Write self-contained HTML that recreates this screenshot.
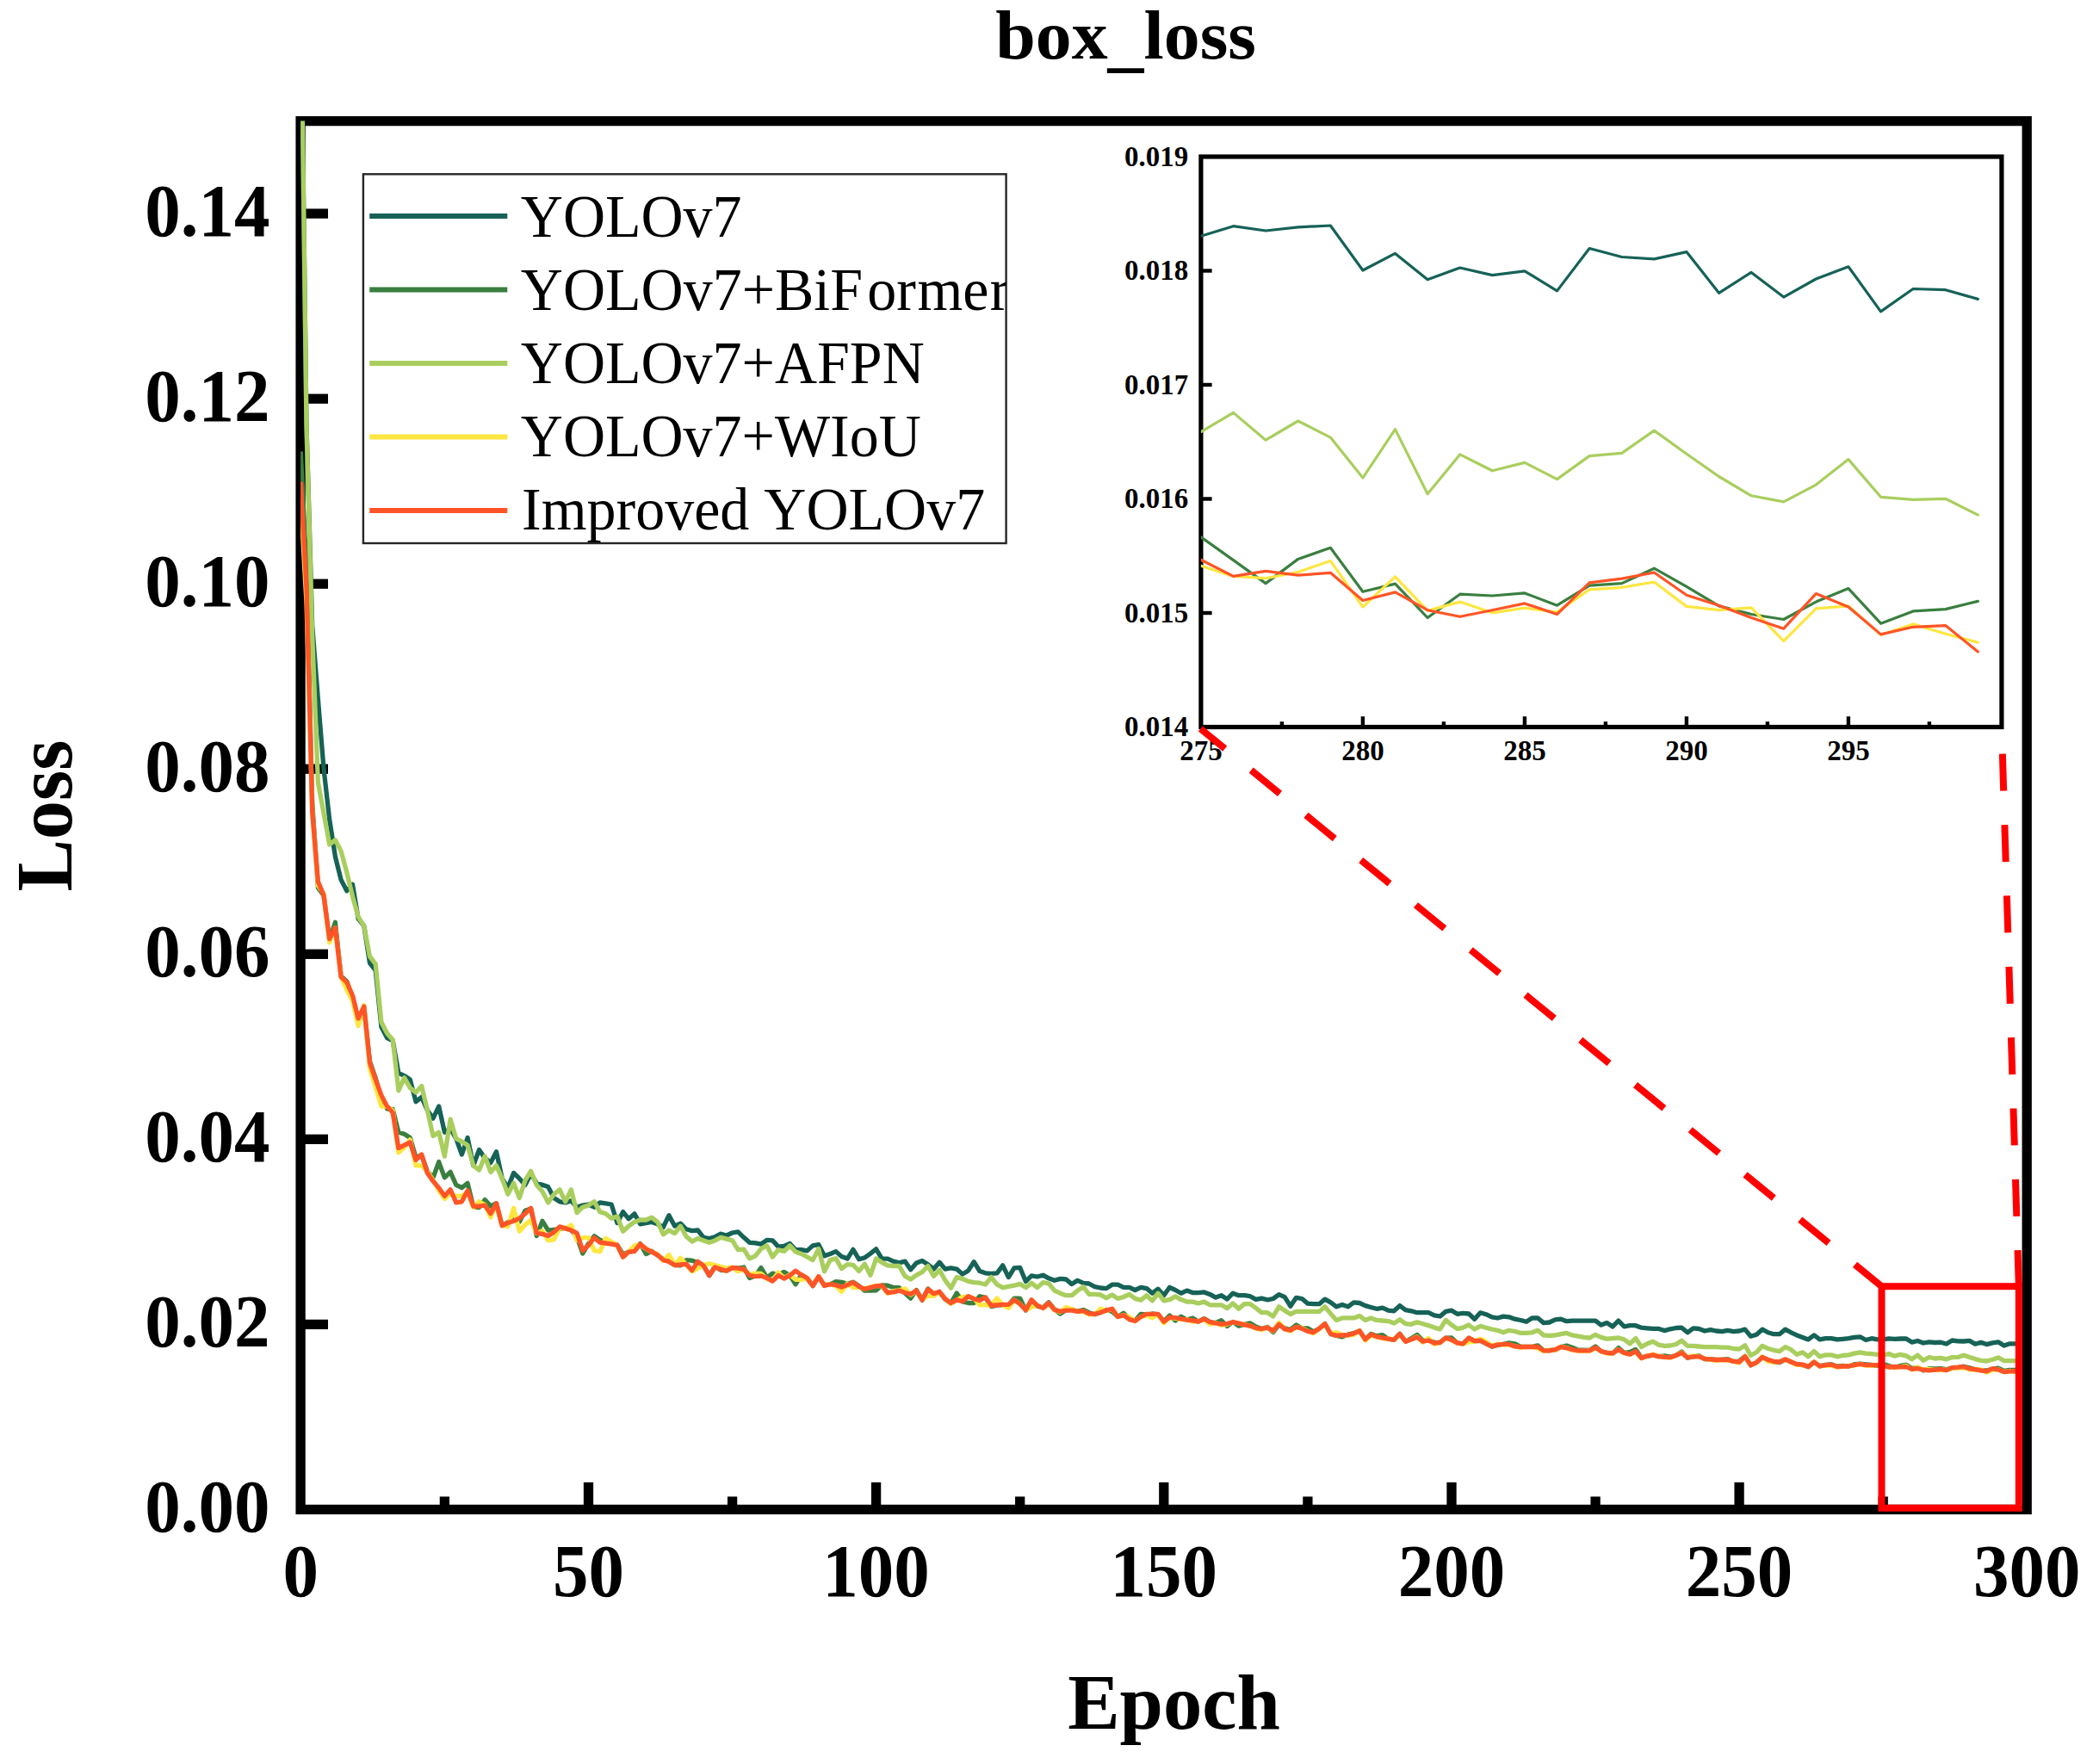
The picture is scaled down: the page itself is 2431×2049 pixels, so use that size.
<!DOCTYPE html>
<html lang="en"><head><meta charset="utf-8"><title>box_loss</title>
<style>
html,body{margin:0;padding:0;background:#fff;}
body{width:2431px;height:2049px;overflow:hidden;}
svg{display:block;}
text{font-family:"Liberation Serif","Times New Roman",Times,serif;fill:#000;font-kerning:none;}
.b{font-weight:bold;}
.tk{font-weight:bold;font-size:83px;}
.itk{font-weight:bold;font-size:33px;}
.lg{font-size:68px;}
.ax{font-weight:bold;font-size:90.6px;}
</style></head><body>
<svg width="2431" height="2049" viewBox="0 0 2431 2049">
<rect x="0" y="0" width="2431" height="2049" fill="#fff"/>
<defs>
<clipPath id="cm"><rect x="349.1" y="140.6" width="2005.1" height="1612.8"/></clipPath>
<clipPath id="cl"><rect x="422" y="202" width="746.5" height="429"/></clipPath>
<clipPath id="ci"><rect x="1394.9" y="182.0" width="930.0" height="662.5"/></clipPath>
</defs>
<text class="b" font-size="83.8" transform="translate(1156.2,67.8) scale(1,0.967)" dy="0 0 0 6 -6">box_loss</text>
<rect x="349.1" y="140.6" width="2005.1" height="1612.8" fill="none" stroke="#000" stroke-width="11.3"/>
<g stroke="#000" stroke-width="11.3">
<line x1="349.1" y1="1538.4" x2="381.0" y2="1538.4"/>
<line x1="349.1" y1="1323.3" x2="381.0" y2="1323.3"/>
<line x1="349.1" y1="1108.3" x2="381.0" y2="1108.3"/>
<line x1="349.1" y1="893.2" x2="381.0" y2="893.2"/>
<line x1="349.1" y1="678.2" x2="381.0" y2="678.2"/>
<line x1="349.1" y1="463.2" x2="381.0" y2="463.2"/>
<line x1="349.1" y1="248.1" x2="381.0" y2="248.1"/>
<line x1="683.5" y1="1753.4" x2="683.5" y2="1721.8"/>
<line x1="1017.6" y1="1753.4" x2="1017.6" y2="1721.8"/>
<line x1="1351.8" y1="1753.4" x2="1351.8" y2="1721.8"/>
<line x1="1686.0" y1="1753.4" x2="1686.0" y2="1721.8"/>
<line x1="2020.1" y1="1753.4" x2="2020.1" y2="1721.8"/>
<line x1="516.4" y1="1753.4" x2="516.4" y2="1738.4"/>
<line x1="850.6" y1="1753.4" x2="850.6" y2="1738.4"/>
<line x1="1184.7" y1="1753.4" x2="1184.7" y2="1738.4"/>
<line x1="1518.9" y1="1753.4" x2="1518.9" y2="1738.4"/>
<line x1="1853.1" y1="1753.4" x2="1853.1" y2="1738.4"/>
<line x1="2187.2" y1="1753.4" x2="2187.2" y2="1738.4"/>
</g>
<g class="tk" text-anchor="end">
<text transform="translate(313.5,1779.4) scale(1,1.048)">0.00</text>
<text transform="translate(313.5,1564.4) scale(1,1.048)">0.02</text>
<text transform="translate(313.5,1349.3) scale(1,1.048)">0.04</text>
<text transform="translate(313.5,1134.3) scale(1,1.048)">0.06</text>
<text transform="translate(313.5,919.2) scale(1,1.048)">0.08</text>
<text transform="translate(313.5,704.2) scale(1,1.048)">0.10</text>
<text transform="translate(313.5,489.2) scale(1,1.048)">0.12</text>
<text transform="translate(313.5,274.1) scale(1,1.048)">0.14</text>
</g>
<g class="tk" text-anchor="middle">
<text transform="translate(349.3,1853.8) scale(1,1.048)">0</text>
<text transform="translate(683.5,1853.8) scale(1,1.048)">50</text>
<text transform="translate(1017.6,1853.8) scale(1,1.048)">100</text>
<text transform="translate(1351.8,1853.8) scale(1,1.048)">150</text>
<text transform="translate(1686.0,1853.8) scale(1,1.048)">200</text>
<text transform="translate(2020.1,1853.8) scale(1,1.048)">250</text>
<text transform="translate(2354.3,1853.8) scale(1,1.048)">300</text>
</g>
<text class="ax" text-anchor="middle" x="1363.5" y="2008">Epoch</text>
<text class="ax" text-anchor="middle" transform="translate(82.8,947.5) rotate(-90) scale(1,1.03)">Loss</text>
<g clip-path="url(#cm)" fill="none" stroke-width="5.3" stroke-linejoin="round" stroke-linecap="butt">
<polyline stroke="#166257" points="349.3,-20.4 356.0,495.4 362.7,726.4 369.4,812.3 376.0,892.9 382.7,952.0 389.4,995.0 396.1,1021.9 402.8,1034.8 409.5,1027.2 416.1,1067.0 422.8,1075.6 429.5,1118.6 436.2,1127.2 442.9,1192.7 449.6,1205.6 456.2,1208.8 462.9,1246.4 469.6,1249.6 476.3,1253.9 483.0,1279.7 489.7,1274.4 496.3,1289.4 503.0,1299.1 509.7,1285.1 516.4,1315.2 523.1,1310.9 529.8,1322.7 536.4,1341.0 543.1,1321.6 549.8,1353.9 556.5,1335.6 563.2,1345.3 569.9,1350.6 576.5,1337.8 583.2,1368.9 589.9,1379.7 596.6,1362.5 603.3,1368.9 610.0,1376.4 616.6,1363.5 623.3,1374.3 630.0,1376.4 636.7,1378.6 643.4,1391.5 650.1,1395.8 656.7,1396.9 663.4,1394.7 670.1,1402.2 676.8,1400.1 683.5,1399.0 690.2,1402.2 696.8,1396.9 703.5,1397.9 710.2,1399.0 716.9,1420.5 723.6,1407.6 730.2,1415.8 736.9,1409.9 743.6,1421.8 750.3,1420.6 757.0,1419.4 763.7,1421.8 770.4,1425.4 777.0,1411.7 783.7,1424.2 790.4,1421.2 797.1,1427.8 803.8,1429.6 810.5,1429.0 817.1,1437.3 823.8,1438.5 830.5,1436.7 837.2,1433.2 843.9,1435.0 850.6,1432.0 857.2,1430.8 863.9,1437.3 870.6,1443.3 877.3,1443.9 884.0,1445.1 890.7,1440.3 897.3,1440.9 904.0,1448.1 910.7,1447.5 917.4,1444.5 924.1,1451.7 930.8,1451.7 937.4,1452.9 944.1,1446.9 950.8,1445.7 957.5,1458.8 964.2,1456.5 970.9,1453.6 977.5,1459.6 984.2,1462.1 990.9,1451.4 997.6,1462.7 1004.3,1460.9 1011.0,1456.1 1017.6,1450.8 1024.3,1462.1 1031.0,1462.1 1037.7,1465.1 1044.4,1466.9 1051.1,1465.1 1057.7,1474.7 1064.4,1466.9 1071.1,1464.5 1077.8,1468.7 1084.5,1474.1 1091.2,1466.3 1097.8,1474.1 1104.5,1472.9 1111.2,1474.1 1117.9,1480.0 1124.6,1475.9 1131.2,1465.7 1137.9,1476.5 1144.6,1478.8 1151.3,1479.4 1158.0,1478.8 1164.7,1469.9 1171.4,1483.6 1178.0,1472.9 1184.7,1472.3 1191.4,1488.4 1198.1,1481.8 1204.8,1483.0 1211.5,1481.2 1218.1,1484.8 1224.8,1487.3 1231.5,1485.4 1238.2,1486.0 1244.9,1491.6 1251.6,1487.3 1258.2,1490.4 1264.9,1491.0 1271.6,1494.7 1278.3,1496.0 1285.0,1496.6 1291.7,1492.2 1298.3,1492.2 1305.0,1495.3 1311.7,1495.3 1318.4,1498.5 1325.1,1495.3 1331.8,1496.6 1338.4,1502.2 1345.1,1497.2 1351.8,1504.7 1358.5,1495.3 1365.2,1498.5 1371.9,1502.2 1378.5,1499.1 1385.2,1501.6 1391.9,1501.6 1398.6,1500.9 1405.3,1503.4 1412.0,1507.1 1418.6,1504.7 1425.3,1509.0 1432.0,1502.2 1438.7,1504.7 1445.4,1504.7 1452.1,1505.7 1458.7,1509.4 1465.4,1508.1 1472.1,1509.8 1478.8,1508.5 1485.5,1503.6 1492.2,1506.7 1498.8,1517.2 1505.5,1507.3 1512.2,1508.5 1518.9,1514.1 1525.6,1514.7 1532.3,1514.7 1538.9,1509.1 1545.6,1512.9 1552.3,1517.8 1559.0,1515.4 1565.7,1517.8 1572.4,1512.9 1579.0,1513.5 1585.7,1516.6 1592.4,1518.5 1599.1,1520.3 1605.8,1519.1 1612.5,1522.2 1619.1,1522.8 1625.8,1516.6 1632.5,1521.6 1639.2,1522.8 1645.9,1524.7 1652.6,1524.7 1659.2,1524.7 1665.9,1527.8 1672.6,1529.0 1679.3,1523.4 1686.0,1522.2 1692.7,1526.3 1699.3,1525.3 1706.0,1526.0 1712.7,1532.2 1719.4,1524.8 1726.1,1526.7 1732.8,1529.8 1739.4,1531.0 1746.1,1529.1 1752.8,1529.8 1759.5,1532.2 1766.2,1533.5 1772.9,1535.3 1779.5,1531.0 1786.2,1531.0 1792.9,1536.6 1799.6,1536.0 1806.3,1532.9 1813.0,1532.2 1819.6,1534.7 1826.3,1534.1 1833.0,1534.1 1839.7,1534.1 1846.4,1534.1 1853.1,1534.1 1859.7,1539.1 1866.4,1536.6 1873.1,1540.9 1879.8,1534.1 1886.5,1540.9 1893.2,1539.7 1899.8,1539.7 1906.5,1542.2 1913.2,1542.8 1919.9,1543.4 1926.6,1543.4 1933.3,1545.6 1939.9,1543.8 1946.6,1542.5 1953.3,1542.2 1960.0,1547.8 1966.7,1542.9 1973.4,1543.5 1980.0,1546.0 1986.7,1544.7 1993.4,1546.0 2000.1,1546.6 2006.8,1545.4 2013.5,1546.6 2020.1,1546.0 2026.8,1544.1 2033.5,1552.2 2040.2,1550.3 2046.9,1544.1 2053.6,1547.8 2060.2,1549.7 2066.9,1549.7 2073.6,1544.1 2080.3,1547.8 2087.0,1550.9 2093.7,1553.4 2100.3,1555.9 2107.0,1550.9 2113.7,1555.9 2120.4,1554.7 2127.1,1554.7 2133.8,1555.9 2140.4,1555.3 2147.1,1554.7 2153.8,1553.4 2160.5,1552.8 2167.2,1556.5 2173.9,1554.7 2180.5,1555.9 2187.2,1555.9 2193.9,1554.9 2200.6,1555.4 2207.3,1555.0 2214.0,1554.9 2220.6,1559.1 2227.3,1557.5 2234.0,1560.0 2240.7,1558.8 2247.4,1559.5 2254.1,1559.2 2260.7,1561.0 2267.4,1557.0 2274.1,1557.8 2280.8,1558.0 2287.5,1557.4 2294.2,1561.2 2300.8,1559.3 2307.5,1561.6 2314.2,1559.9 2320.9,1558.8 2327.6,1563.0 2334.3,1560.8 2340.9,1560.9 2347.6,1561.8"/>
<polyline stroke="#3a7f40" points="349.3,524.4 356.0,661.9 362.7,932.7 369.4,1031.1 376.0,1040.2 382.7,1091.5 389.4,1071.3 396.1,1133.8 402.8,1140.0 409.5,1159.0 416.1,1185.4 422.8,1170.3 429.5,1232.8 436.2,1252.4 442.9,1275.7 449.6,1288.1 456.2,1288.3 462.9,1315.2 469.6,1317.3 476.3,1321.6 483.0,1344.5 489.7,1341.8 496.3,1360.5 503.0,1368.0 509.7,1349.6 516.4,1367.8 523.1,1361.4 529.8,1376.4 536.4,1379.7 543.1,1374.3 549.8,1401.7 556.5,1402.5 563.2,1393.6 569.9,1401.1 576.5,1397.7 583.2,1423.5 589.9,1419.7 596.6,1414.6 603.3,1419.3 610.0,1406.3 616.6,1403.9 623.3,1435.6 630.0,1418.3 636.7,1429.1 643.4,1428.4 650.1,1427.6 656.7,1426.4 663.4,1428.8 670.1,1436.8 676.8,1455.9 683.5,1444.7 690.2,1435.8 696.8,1440.1 703.5,1442.7 710.2,1444.1 716.9,1445.9 723.6,1457.0 730.2,1454.1 736.9,1452.8 743.6,1444.6 750.3,1456.5 757.0,1453.3 763.7,1458.0 770.4,1462.6 777.0,1465.0 783.7,1469.5 790.4,1469.8 797.1,1463.6 803.8,1464.2 810.5,1466.4 817.1,1469.8 823.8,1481.8 830.5,1471.0 837.2,1475.3 843.9,1475.9 850.6,1472.6 857.2,1473.0 863.9,1472.0 870.6,1484.5 877.3,1482.1 884.0,1472.6 890.7,1484.2 897.3,1479.1 904.0,1481.2 910.7,1477.4 917.4,1481.6 924.1,1491.7 930.8,1480.7 937.4,1484.8 944.1,1493.7 950.8,1483.0 957.5,1492.7 964.2,1491.9 970.9,1488.7 977.5,1489.3 984.2,1491.3 990.9,1489.2 997.6,1493.7 1004.3,1499.2 1011.0,1499.1 1017.6,1498.9 1024.3,1492.9 1031.0,1493.2 1037.7,1495.6 1044.4,1495.6 1051.1,1502.0 1057.7,1508.1 1064.4,1498.5 1071.1,1510.4 1077.8,1496.9 1084.5,1503.3 1091.2,1501.1 1097.8,1509.3 1104.5,1513.7 1111.2,1502.1 1117.9,1512.0 1124.6,1513.5 1131.2,1513.5 1137.9,1505.7 1144.6,1507.4 1151.3,1517.6 1158.0,1516.2 1164.7,1515.6 1171.4,1516.0 1178.0,1508.1 1184.7,1508.1 1191.4,1522.0 1198.1,1510.6 1204.8,1517.2 1211.5,1519.0 1218.1,1512.8 1224.8,1520.9 1231.5,1526.1 1238.2,1521.5 1244.9,1520.9 1251.6,1523.0 1258.2,1521.5 1264.9,1524.7 1271.6,1526.8 1278.3,1524.5 1285.0,1521.3 1291.7,1523.4 1298.3,1529.5 1305.0,1525.2 1311.7,1531.9 1318.4,1534.1 1325.1,1526.3 1331.8,1527.0 1338.4,1526.0 1345.1,1526.9 1351.8,1534.8 1358.5,1528.1 1365.2,1534.0 1371.9,1529.2 1378.5,1533.0 1385.2,1531.0 1391.9,1535.0 1398.6,1531.6 1405.3,1535.5 1412.0,1536.5 1418.6,1533.8 1425.3,1540.4 1432.0,1535.4 1438.7,1540.2 1445.4,1538.4 1452.1,1536.9 1458.7,1541.0 1465.4,1543.5 1472.1,1541.5 1478.8,1547.4 1485.5,1538.7 1492.2,1542.7 1498.8,1544.5 1505.5,1539.0 1512.2,1542.8 1518.9,1542.8 1525.6,1546.9 1532.3,1543.2 1538.9,1537.5 1545.6,1549.5 1552.3,1551.4 1559.0,1552.8 1565.7,1550.2 1572.4,1548.6 1579.0,1545.9 1585.7,1555.8 1592.4,1549.4 1599.1,1551.7 1605.8,1550.6 1612.5,1555.3 1619.1,1556.0 1625.8,1549.2 1632.5,1558.3 1639.2,1554.7 1645.9,1550.4 1652.6,1557.4 1659.2,1556.4 1665.9,1559.1 1672.6,1559.5 1679.3,1554.1 1686.0,1553.9 1692.7,1560.1 1699.3,1560.8 1706.0,1554.1 1712.7,1557.9 1719.4,1557.3 1726.1,1560.4 1732.8,1564.3 1739.4,1562.4 1746.1,1561.4 1752.8,1559.8 1759.5,1560.8 1766.2,1564.3 1772.9,1564.3 1779.5,1564.3 1786.2,1562.9 1792.9,1568.8 1799.6,1568.5 1806.3,1568.2 1813.0,1564.5 1819.6,1563.0 1826.3,1565.2 1833.0,1568.2 1839.7,1568.1 1846.4,1568.4 1853.1,1563.9 1859.7,1569.8 1866.4,1571.5 1873.1,1571.9 1879.8,1565.6 1886.5,1571.5 1893.2,1570.4 1899.8,1567.5 1906.5,1576.8 1913.2,1575.4 1919.9,1573.8 1926.6,1575.6 1933.3,1574.9 1939.9,1576.2 1946.6,1574.2 1953.3,1570.1 1960.0,1577.2 1966.7,1575.9 1973.4,1574.9 1980.0,1578.7 1986.7,1579.0 1993.4,1579.3 2000.1,1579.2 2006.8,1578.8 2013.5,1581.4 2020.1,1581.1 2026.8,1575.3 2033.5,1585.9 2040.2,1582.5 2046.9,1576.8 2053.6,1579.8 2060.2,1582.0 2066.9,1582.5 2073.6,1579.3 2080.3,1581.8 2087.0,1585.1 2093.7,1585.5 2100.3,1587.6 2107.0,1582.3 2113.7,1586.7 2120.4,1585.3 2127.1,1584.8 2133.8,1587.2 2140.4,1586.5 2147.1,1587.0 2153.8,1584.7 2160.5,1584.2 2167.2,1584.9 2173.9,1585.5 2180.5,1586.3 2187.2,1584.3 2193.9,1586.5 2200.6,1588.6 2207.3,1586.4 2214.0,1585.3 2220.6,1589.4 2227.3,1588.7 2234.0,1591.9 2240.7,1589.7 2247.4,1589.8 2254.1,1589.6 2260.7,1590.7 2267.4,1588.8 2274.1,1588.6 2280.8,1587.2 2287.5,1588.9 2294.2,1590.8 2300.8,1591.6 2307.5,1592.0 2314.2,1590.4 2320.9,1589.1 2327.6,1592.4 2334.3,1591.3 2340.9,1591.1 2347.6,1590.3"/>
<polyline stroke="#a9ce5e" points="349.3,-20.4 356.0,495.4 362.7,738.2 369.4,909.0 376.0,944.5 382.7,981.0 389.4,975.7 396.1,988.6 402.8,1013.3 409.5,1041.2 416.1,1064.8 422.8,1075.6 429.5,1111.0 436.2,1119.6 442.9,1187.3 449.6,1200.2 456.2,1207.7 462.9,1266.8 469.6,1251.8 476.3,1263.6 483.0,1269.0 489.7,1261.5 496.3,1289.4 503.0,1319.5 509.7,1315.2 516.4,1343.1 523.1,1300.1 529.8,1322.7 536.4,1325.9 543.1,1330.2 549.8,1353.9 556.5,1359.2 563.2,1343.1 569.9,1361.4 576.5,1353.9 583.2,1368.9 589.9,1387.2 596.6,1374.3 603.3,1391.5 610.0,1371.1 616.6,1360.3 623.3,1376.4 630.0,1384.0 636.7,1396.9 643.4,1387.2 650.1,1381.8 656.7,1395.8 663.4,1381.8 670.1,1408.7 676.8,1402.2 683.5,1400.1 690.2,1395.8 696.8,1407.6 703.5,1409.7 710.2,1415.1 716.9,1413.0 723.6,1430.2 730.2,1424.2 736.9,1419.4 743.6,1417.0 750.3,1417.0 757.0,1414.1 763.7,1419.4 770.4,1433.8 777.0,1429.0 783.7,1432.6 790.4,1424.2 797.1,1436.2 803.8,1442.1 810.5,1438.5 817.1,1440.9 823.8,1443.3 830.5,1440.9 837.2,1437.3 843.9,1439.1 850.6,1440.9 857.2,1451.7 863.9,1451.1 870.6,1461.8 877.3,1458.8 884.0,1450.5 890.7,1446.9 897.3,1460.0 904.0,1451.7 910.7,1453.5 917.4,1446.9 924.1,1454.1 930.8,1456.5 937.4,1460.0 944.1,1463.6 950.8,1450.5 957.5,1476.8 964.2,1463.6 970.9,1461.7 977.5,1473.6 984.2,1468.7 990.9,1469.3 997.6,1476.5 1004.3,1468.1 1011.0,1481.2 1017.6,1462.1 1024.3,1466.3 1031.0,1469.9 1037.7,1470.5 1044.4,1470.5 1051.1,1482.4 1057.7,1486.0 1064.4,1481.2 1071.1,1477.6 1077.8,1470.5 1084.5,1482.4 1091.2,1475.3 1097.8,1487.2 1104.5,1496.2 1111.2,1483.6 1117.9,1485.4 1124.6,1488.4 1131.2,1489.6 1137.9,1490.2 1144.6,1492.0 1151.3,1483.6 1158.0,1492.0 1164.7,1495.6 1171.4,1494.4 1178.0,1493.2 1184.7,1491.4 1191.4,1495.6 1198.1,1490.2 1204.8,1495.6 1211.5,1489.6 1218.1,1490.8 1224.8,1499.1 1231.5,1502.2 1238.2,1504.7 1244.9,1504.7 1251.6,1499.1 1258.2,1494.7 1264.9,1503.4 1271.6,1503.4 1278.3,1504.0 1285.0,1507.8 1291.7,1504.0 1298.3,1508.4 1305.0,1506.5 1311.7,1503.4 1318.4,1508.4 1325.1,1510.3 1331.8,1504.7 1338.4,1510.9 1345.1,1502.2 1351.8,1510.9 1358.5,1509.6 1365.2,1505.9 1371.9,1509.6 1378.5,1512.1 1385.2,1512.1 1391.9,1514.0 1398.6,1512.1 1405.3,1515.8 1412.0,1515.8 1418.6,1515.8 1425.3,1519.6 1432.0,1514.0 1438.7,1520.2 1445.4,1514.6 1452.1,1514.7 1458.7,1519.3 1465.4,1524.6 1472.1,1524.7 1478.8,1529.0 1485.5,1517.8 1492.2,1522.2 1498.8,1526.5 1505.5,1523.4 1512.2,1523.4 1518.9,1523.4 1525.6,1523.4 1532.3,1523.4 1538.9,1517.8 1545.6,1525.9 1552.3,1533.4 1559.0,1530.9 1565.7,1530.9 1572.4,1530.9 1579.0,1528.4 1585.7,1533.4 1592.4,1530.9 1599.1,1533.4 1605.8,1534.0 1612.5,1534.6 1619.1,1537.1 1625.8,1532.7 1632.5,1537.7 1639.2,1538.3 1645.9,1535.8 1652.6,1537.7 1659.2,1539.6 1665.9,1542.1 1672.6,1543.9 1679.3,1533.4 1686.0,1539.0 1692.7,1543.7 1699.3,1542.1 1706.0,1539.0 1712.7,1544.0 1719.4,1540.3 1726.1,1542.2 1732.8,1544.0 1739.4,1545.3 1746.1,1547.8 1752.8,1545.3 1759.5,1546.5 1766.2,1548.4 1772.9,1548.4 1779.5,1547.8 1786.2,1545.3 1792.9,1550.9 1799.6,1551.5 1806.3,1550.9 1813.0,1549.6 1819.6,1548.4 1826.3,1550.9 1833.0,1552.1 1839.7,1553.4 1846.4,1554.0 1853.1,1550.3 1859.7,1553.4 1866.4,1555.2 1873.1,1554.6 1879.8,1554.0 1886.5,1555.8 1893.2,1560.8 1899.8,1554.6 1906.5,1564.5 1913.2,1560.8 1919.9,1558.3 1926.6,1562.1 1933.3,1563.3 1939.9,1563.0 1946.6,1561.5 1953.3,1557.2 1960.0,1563.4 1966.7,1563.4 1973.4,1564.0 1980.0,1564.6 1986.7,1564.6 1993.4,1564.6 2000.1,1565.2 2006.8,1565.2 2013.5,1566.5 2020.1,1567.1 2026.8,1562.7 2033.5,1574.5 2040.2,1570.8 2046.9,1563.4 2053.6,1566.5 2060.2,1568.3 2066.9,1569.6 2073.6,1564.6 2080.3,1567.7 2087.0,1573.3 2093.7,1570.8 2100.3,1575.8 2107.0,1569.6 2113.7,1575.8 2120.4,1573.9 2127.1,1573.9 2133.8,1575.8 2140.4,1574.5 2147.1,1573.9 2153.8,1572.1 2160.5,1570.8 2167.2,1572.1 2173.9,1572.7 2180.5,1573.3 2187.2,1574.3 2193.9,1572.5 2200.6,1575.1 2207.3,1573.3 2214.0,1574.9 2220.6,1578.7 2227.3,1574.1 2234.0,1580.2 2240.7,1576.5 2247.4,1578.0 2254.1,1577.3 2260.7,1578.8 2267.4,1576.6 2274.1,1576.4 2280.8,1574.2 2287.5,1576.4 2294.2,1578.6 2300.8,1580.4 2307.5,1581.0 2314.2,1579.3 2320.9,1576.9 2327.6,1580.5 2334.3,1580.7 2340.9,1580.7 2347.6,1582.2"/>
<polyline stroke="#fee641" points="349.3,581.3 356.0,699.5 362.7,942.8 369.4,1028.6 376.0,1038.1 382.7,1094.8 389.4,1077.7 396.1,1135.0 402.8,1149.7 409.5,1162.6 416.1,1191.6 422.8,1167.8 429.5,1241.1 436.2,1262.5 442.9,1285.1 449.6,1285.4 456.2,1289.9 462.9,1338.8 469.6,1333.0 476.3,1323.8 483.0,1353.9 489.7,1353.9 496.3,1360.7 503.0,1370.7 509.7,1382.8 516.4,1392.6 523.1,1386.3 529.8,1389.3 536.4,1389.3 543.1,1384.6 549.8,1402.6 556.5,1395.8 563.2,1399.5 569.9,1414.0 576.5,1398.6 583.2,1423.5 589.9,1424.8 596.6,1403.3 603.3,1430.2 610.0,1422.6 616.6,1417.3 623.3,1432.6 630.0,1429.8 636.7,1440.9 643.4,1439.8 650.1,1426.4 656.7,1427.2 663.4,1423.1 670.1,1440.8 676.8,1437.7 683.5,1437.7 690.2,1452.7 696.8,1453.8 703.5,1438.4 710.2,1442.5 716.9,1446.4 723.6,1459.8 730.2,1454.1 736.9,1446.9 743.6,1446.2 750.3,1450.6 757.0,1454.1 763.7,1456.8 770.4,1464.1 777.0,1457.6 783.7,1469.4 790.4,1461.2 797.1,1469.0 803.8,1476.8 810.5,1473.2 817.1,1469.6 823.8,1467.8 830.5,1469.6 837.2,1471.4 843.9,1473.2 850.6,1472.0 857.2,1476.8 863.9,1474.2 870.6,1480.3 877.3,1479.1 884.0,1479.4 890.7,1485.4 897.3,1487.6 904.0,1478.0 910.7,1484.6 917.4,1480.7 924.1,1486.3 930.8,1486.3 937.4,1484.8 944.1,1492.8 950.8,1482.8 957.5,1493.1 964.2,1491.5 970.9,1493.7 977.5,1500.3 984.2,1491.0 990.9,1495.6 997.6,1495.1 1004.3,1497.1 1011.0,1495.1 1017.6,1493.3 1024.3,1493.9 1031.0,1502.3 1037.7,1499.7 1044.4,1498.9 1051.1,1496.8 1057.7,1503.9 1064.4,1499.6 1071.1,1509.6 1077.8,1505.1 1084.5,1505.4 1091.2,1500.9 1097.8,1508.5 1104.5,1514.1 1111.2,1510.6 1117.9,1506.3 1124.6,1506.4 1131.2,1508.0 1137.9,1515.9 1144.6,1515.6 1151.3,1516.5 1158.0,1508.1 1164.7,1516.0 1171.4,1519.4 1178.0,1510.1 1184.7,1514.5 1191.4,1521.5 1198.1,1518.3 1204.8,1516.1 1211.5,1519.5 1218.1,1513.9 1224.8,1521.7 1231.5,1524.1 1238.2,1518.4 1244.9,1520.6 1251.6,1523.3 1258.2,1523.5 1264.9,1526.9 1271.6,1526.7 1278.3,1520.1 1285.0,1522.8 1291.7,1520.5 1298.3,1529.6 1305.0,1527.5 1311.7,1529.8 1318.4,1534.5 1325.1,1529.7 1331.8,1527.6 1338.4,1530.8 1345.1,1527.0 1351.8,1536.7 1358.5,1530.5 1365.2,1531.4 1371.9,1532.7 1378.5,1532.7 1385.2,1535.0 1391.9,1534.8 1398.6,1532.5 1405.3,1538.1 1412.0,1536.6 1418.6,1539.3 1425.3,1538.3 1432.0,1535.7 1438.7,1537.0 1445.4,1538.6 1452.1,1540.1 1458.7,1543.2 1465.4,1544.5 1472.1,1542.1 1478.8,1546.1 1485.5,1536.3 1492.2,1543.9 1498.8,1546.1 1505.5,1541.5 1512.2,1542.6 1518.9,1546.3 1525.6,1548.7 1532.3,1543.5 1538.9,1538.1 1545.6,1549.0 1552.3,1547.7 1559.0,1550.6 1565.7,1551.2 1572.4,1550.4 1579.0,1545.4 1585.7,1557.0 1592.4,1551.0 1599.1,1552.9 1605.8,1554.8 1612.5,1554.5 1619.1,1556.6 1625.8,1549.8 1632.5,1558.1 1639.2,1555.9 1645.9,1552.6 1652.6,1559.2 1659.2,1554.5 1665.9,1561.4 1672.6,1559.4 1679.3,1554.1 1686.0,1556.7 1692.7,1560.1 1699.3,1561.0 1706.0,1558.8 1712.7,1558.4 1719.4,1555.1 1726.1,1558.4 1732.8,1563.5 1739.4,1561.3 1746.1,1562.0 1752.8,1562.0 1759.5,1563.9 1766.2,1565.3 1772.9,1564.6 1779.5,1564.1 1786.2,1566.1 1792.9,1569.5 1799.6,1568.1 1806.3,1568.3 1813.0,1564.3 1819.6,1565.5 1826.3,1568.3 1833.0,1569.1 1839.7,1569.1 1846.4,1569.1 1853.1,1565.8 1859.7,1569.5 1866.4,1572.1 1873.1,1572.0 1879.8,1567.5 1886.5,1571.7 1893.2,1573.1 1899.8,1570.1 1906.5,1577.7 1913.2,1575.0 1919.9,1573.2 1926.6,1575.1 1933.3,1576.3 1939.9,1577.1 1946.6,1574.3 1953.3,1571.0 1960.0,1576.5 1966.7,1575.0 1973.4,1575.7 1980.0,1578.1 1986.7,1579.5 1993.4,1580.6 2000.1,1579.5 2006.8,1580.0 2013.5,1580.9 2020.1,1583.1 2026.8,1575.5 2033.5,1585.4 2040.2,1583.0 2046.9,1575.9 2053.6,1581.5 2060.2,1582.0 2066.9,1581.5 2073.6,1579.4 2080.3,1581.9 2087.0,1585.7 2093.7,1585.1 2100.3,1587.6 2107.0,1581.8 2113.7,1587.2 2120.4,1585.8 2127.1,1586.2 2133.8,1587.9 2140.4,1587.1 2147.1,1586.9 2153.8,1585.6 2160.5,1584.6 2167.2,1586.3 2173.9,1586.1 2180.5,1585.5 2187.2,1587.0 2193.9,1588.0 2200.6,1588.2 2207.3,1587.6 2214.0,1586.5 2220.6,1590.9 2227.3,1588.0 2234.0,1591.2 2240.7,1590.4 2247.4,1591.4 2254.1,1591.0 2260.7,1591.4 2267.4,1589.2 2274.1,1589.0 2280.8,1588.5 2287.5,1590.8 2294.2,1591.2 2300.8,1590.9 2307.5,1594.1 2314.2,1591.0 2320.9,1590.8 2327.6,1593.5 2334.3,1592.5 2340.9,1593.4 2347.6,1594.2"/>
<polyline stroke="#ff5427" points="349.3,559.8 356.0,683.4 362.7,943.4 369.4,1024.0 376.0,1040.1 382.7,1090.6 389.4,1077.7 396.1,1134.7 402.8,1141.1 409.5,1156.2 416.1,1183.0 422.8,1169.1 429.5,1234.6 436.2,1253.9 442.9,1272.2 449.6,1285.1 456.2,1292.6 462.9,1333.5 469.6,1330.2 476.3,1327.0 483.0,1347.4 489.7,1341.0 496.3,1362.5 503.0,1372.1 509.7,1379.7 516.4,1389.3 523.1,1381.8 529.8,1396.9 536.4,1395.8 543.1,1382.9 549.8,1401.1 556.5,1401.1 563.2,1400.1 569.9,1409.7 576.5,1397.9 583.2,1423.7 589.9,1420.5 596.6,1418.3 603.3,1415.1 610.0,1409.7 616.6,1403.3 623.3,1432.3 630.0,1433.4 636.7,1435.5 643.4,1431.2 650.1,1424.8 656.7,1426.9 663.4,1429.1 670.1,1432.3 676.8,1452.7 683.5,1446.3 690.2,1437.7 696.8,1443.1 703.5,1444.1 710.2,1445.2 716.9,1446.3 723.6,1460.2 730.2,1454.1 736.9,1453.5 743.6,1445.1 750.3,1450.5 757.0,1454.1 763.7,1457.6 770.4,1463.6 777.0,1465.4 783.7,1469.6 790.4,1469.0 797.1,1468.4 803.8,1475.6 810.5,1465.4 817.1,1470.2 823.8,1481.5 830.5,1472.0 837.2,1474.4 843.9,1476.2 850.6,1472.6 857.2,1473.2 863.9,1474.4 870.6,1481.5 877.3,1482.7 884.0,1482.1 890.7,1484.5 897.3,1488.1 904.0,1481.5 910.7,1485.1 917.4,1481.5 924.1,1476.2 930.8,1480.9 937.4,1484.5 944.1,1493.5 950.8,1482.7 957.5,1493.5 964.2,1491.7 970.9,1492.7 977.5,1495.1 984.2,1492.6 990.9,1489.6 997.6,1494.4 1004.3,1497.4 1011.0,1495.6 1017.6,1493.8 1024.3,1493.2 1031.0,1501.5 1037.7,1500.9 1044.4,1499.1 1051.1,1501.5 1057.7,1503.3 1064.4,1499.1 1071.1,1509.9 1077.8,1497.4 1084.5,1502.7 1091.2,1500.3 1097.8,1508.7 1104.5,1513.5 1111.2,1509.9 1117.9,1511.7 1124.6,1505.7 1131.2,1508.7 1137.9,1510.5 1144.6,1506.9 1151.3,1516.5 1158.0,1515.9 1164.7,1515.3 1171.4,1515.3 1178.0,1509.9 1184.7,1514.7 1191.4,1521.8 1198.1,1509.9 1204.8,1516.5 1211.5,1519.4 1218.1,1513.5 1224.8,1521.4 1231.5,1523.3 1238.2,1522.1 1244.9,1522.1 1251.6,1523.3 1258.2,1522.7 1264.9,1525.8 1271.6,1526.4 1278.3,1524.5 1285.0,1522.1 1291.7,1520.2 1298.3,1529.5 1305.0,1527.6 1311.7,1532.6 1318.4,1534.5 1325.1,1529.5 1331.8,1526.4 1338.4,1526.4 1345.1,1526.4 1351.8,1535.1 1358.5,1530.1 1365.2,1530.7 1371.9,1532.0 1378.5,1533.2 1385.2,1533.9 1391.9,1535.1 1398.6,1532.0 1405.3,1535.7 1412.0,1537.0 1418.6,1538.2 1425.3,1537.6 1432.0,1535.7 1438.7,1537.0 1445.4,1538.8 1452.1,1540.1 1458.7,1542.6 1465.4,1543.5 1472.1,1542.1 1478.8,1545.8 1485.5,1538.3 1492.2,1543.9 1498.8,1545.2 1505.5,1541.4 1512.2,1543.3 1518.9,1546.4 1525.6,1547.6 1532.3,1543.3 1538.9,1537.7 1545.6,1549.5 1552.3,1551.4 1559.0,1550.8 1565.7,1550.8 1572.4,1548.9 1579.0,1545.8 1585.7,1555.7 1592.4,1550.1 1599.1,1552.6 1605.8,1553.9 1612.5,1555.1 1619.1,1556.3 1625.8,1549.5 1632.5,1558.2 1639.2,1555.7 1645.9,1553.2 1652.6,1558.2 1659.2,1557.0 1665.9,1560.1 1672.6,1559.4 1679.3,1553.9 1686.0,1556.3 1692.7,1559.8 1699.3,1560.8 1706.0,1554.2 1712.7,1557.7 1719.4,1557.1 1726.1,1560.8 1732.8,1563.9 1739.4,1562.1 1746.1,1561.4 1752.8,1561.4 1759.5,1563.9 1766.2,1564.5 1772.9,1564.5 1779.5,1564.5 1786.2,1564.5 1792.9,1568.9 1799.6,1568.9 1806.3,1567.6 1813.0,1564.5 1819.6,1565.8 1826.3,1567.6 1833.0,1568.9 1839.7,1568.9 1846.4,1568.9 1853.1,1565.2 1859.7,1569.5 1866.4,1571.4 1873.1,1572.0 1879.8,1567.6 1886.5,1571.4 1893.2,1573.2 1899.8,1569.5 1906.5,1577.6 1913.2,1575.1 1919.9,1573.9 1926.6,1575.7 1933.3,1576.4 1939.9,1576.7 1946.6,1574.5 1953.3,1571.4 1960.0,1577.0 1966.7,1575.8 1973.4,1575.8 1980.0,1578.3 1986.7,1578.9 1993.4,1579.5 2000.1,1579.5 2006.8,1579.5 2013.5,1581.4 2020.1,1582.0 2026.8,1575.8 2033.5,1585.7 2040.2,1582.6 2046.9,1576.4 2053.6,1579.5 2060.2,1581.4 2066.9,1582.0 2073.6,1578.9 2080.3,1582.0 2087.0,1584.5 2093.7,1585.1 2100.3,1587.6 2107.0,1582.0 2113.7,1587.0 2120.4,1585.7 2127.1,1585.1 2133.8,1587.6 2140.4,1587.0 2147.1,1587.0 2153.8,1585.7 2160.5,1584.5 2167.2,1585.7 2173.9,1585.7 2180.5,1585.7 2187.2,1586.4 2193.9,1588.0 2200.6,1587.5 2207.3,1587.9 2214.0,1587.6 2220.6,1590.3 2227.3,1589.5 2234.0,1591.2 2240.7,1591.8 2247.4,1591.2 2254.1,1590.5 2260.7,1591.6 2267.4,1588.6 2274.1,1588.2 2280.8,1587.6 2287.5,1589.8 2294.2,1590.7 2300.8,1591.9 2307.5,1592.9 2314.2,1589.6 2320.9,1590.9 2327.6,1593.5 2334.3,1592.8 2340.9,1592.6 2347.6,1595.1"/>
</g>
<rect x="421.9" y="202.3" width="746.7" height="428.7" fill="#fff" stroke="#262626" stroke-width="2.4"/>
<g stroke-width="6">
<line x1="429.2" y1="251.1" x2="589.3" y2="251.1" stroke="#166257"/>
<line x1="429.2" y1="336.6" x2="589.3" y2="336.6" stroke="#3a7f40"/>
<line x1="429.2" y1="422.1" x2="589.3" y2="422.1" stroke="#a9ce5e"/>
<line x1="429.2" y1="507.6" x2="589.3" y2="507.6" stroke="#fee641"/>
<line x1="429.2" y1="593.1" x2="589.3" y2="593.1" stroke="#ff5427"/>
</g>
<g class="lg" clip-path="url(#cl)">
<text transform="translate(604.8,275.3) scale(1,1.035)">YOLOv7</text>
<text transform="translate(604.8,360.3) scale(1,1.035)" dx="0 0 0 0 0 0 0 0 0 0 5.3 0 1.4 0 1.3">YOLOv7+BiFormer</text>
<text transform="translate(604.8,445.4) scale(1,1.035)">YOLOv7+AFPN</text>
<text transform="translate(604.8,530.4) scale(1,1.035)">YOLOv7+WIoU</text>
<text transform="translate(606.0,615.4) scale(1,1.035)">Improved YOLOv7</text>
</g>
<rect x="1394.9" y="182.0" width="930.0" height="662.5" fill="#fff" stroke="#000" stroke-width="5.2"/>
<g stroke="#000" stroke-width="4.4">
<line x1="1394.9" y1="712.0" x2="1407.6" y2="712.0"/>
<line x1="1394.9" y1="579.5" x2="1407.6" y2="579.5"/>
<line x1="1394.9" y1="447.0" x2="1407.6" y2="447.0"/>
<line x1="1394.9" y1="314.5" x2="1407.6" y2="314.5"/>
<line x1="1582.9" y1="844.5" x2="1582.9" y2="832.2"/>
<line x1="1770.9" y1="844.5" x2="1770.9" y2="832.2"/>
<line x1="1958.9" y1="844.5" x2="1958.9" y2="832.2"/>
<line x1="2146.9" y1="844.5" x2="2146.9" y2="832.2"/>
<line x1="1488.9" y1="844.5" x2="1488.9" y2="838.2"/>
<line x1="1676.9" y1="844.5" x2="1676.9" y2="838.2"/>
<line x1="1864.9" y1="844.5" x2="1864.9" y2="838.2"/>
<line x1="2052.9" y1="844.5" x2="2052.9" y2="838.2"/>
<line x1="2240.9" y1="844.5" x2="2240.9" y2="838.2"/>
</g>
<g class="itk" text-anchor="end">
<text transform="translate(1380.3,855.1) scale(1,1.048)">0.014</text>
<text transform="translate(1380.3,722.6) scale(1,1.048)">0.015</text>
<text transform="translate(1380.3,590.1) scale(1,1.048)">0.016</text>
<text transform="translate(1380.3,457.6) scale(1,1.048)">0.017</text>
<text transform="translate(1380.3,325.1) scale(1,1.048)">0.018</text>
<text transform="translate(1380.3,192.6) scale(1,1.048)">0.019</text>
</g>
<g class="itk" text-anchor="middle">
<text transform="translate(1394.9,882.8) scale(1,1.048)">275</text>
<text transform="translate(1582.9,882.8) scale(1,1.048)">280</text>
<text transform="translate(1770.9,882.8) scale(1,1.048)">285</text>
<text transform="translate(1958.9,882.8) scale(1,1.048)">290</text>
<text transform="translate(2146.9,882.8) scale(1,1.048)">295</text>
</g>
<g clip-path="url(#ci)" fill="none" stroke-width="3.2" stroke-linejoin="round" stroke-linecap="round">
<polyline stroke="#166257" points="1394.9,274.2 1432.5,262.7 1470.1,268.0 1507.7,263.9 1545.3,262.0 1582.9,314.0 1620.5,294.4 1658.1,324.8 1695.7,311.0 1733.3,319.6 1770.9,314.8 1808.5,337.9 1846.1,288.5 1883.7,298.5 1921.3,300.9 1958.9,292.6 1996.5,340.3 2034.1,316.4 2071.7,345.1 2109.3,324.0 2146.9,309.8 2184.5,361.9 2222.1,335.5 2259.7,336.7 2297.3,347.4"/>
<polyline stroke="#3a7f40" points="1394.9,623.9 1432.5,650.6 1470.1,677.6 1507.7,649.4 1545.3,636.3 1582.9,687.2 1620.5,678.1 1658.1,717.5 1695.7,690.2 1733.3,692.0 1770.9,688.9 1808.5,703.2 1846.1,680.1 1883.7,677.6 1921.3,660.2 1958.9,681.3 1996.5,703.9 2034.1,713.5 2071.7,719.5 2109.3,699.1 2146.9,683.6 2184.5,724.2 2222.1,709.9 2259.7,707.6 2297.3,698.4"/>
<polyline stroke="#a9ce5e" points="1394.9,501.6 1432.5,479.4 1470.1,511.2 1507.7,489.0 1545.3,508.1 1582.9,555.1 1620.5,498.6 1658.1,573.8 1695.7,527.9 1733.3,546.8 1770.9,537.4 1808.5,556.6 1846.1,529.6 1883.7,526.4 1921.3,500.1 1958.9,527.2 1996.5,553.5 2034.1,575.8 2071.7,582.9 2109.3,563.1 2146.9,533.6 2184.5,577.3 2222.1,580.3 2259.7,579.3 2297.3,598.1"/>
<polyline stroke="#fee641" points="1394.9,657.3 1432.5,669.4 1470.1,671.7 1507.7,664.5 1545.3,651.4 1582.9,705.0 1620.5,669.8 1658.1,709.4 1695.7,699.1 1733.3,711.8 1770.9,706.2 1808.5,711.1 1846.1,684.8 1883.7,682.4 1921.3,676.0 1958.9,704.4 1996.5,708.7 2034.1,705.8 2071.7,744.6 2109.3,706.8 2146.9,703.9 2184.5,737.4 2222.1,724.9 2259.7,736.2 2297.3,746.2"/>
<polyline stroke="#ff5427" points="1394.9,650.2 1432.5,669.4 1470.1,663.3 1507.7,668.2 1545.3,665.3 1582.9,697.5 1620.5,687.9 1658.1,708.7 1695.7,716.3 1733.3,708.7 1770.9,700.9 1808.5,713.5 1846.1,676.9 1883.7,672.1 1921.3,665.0 1958.9,691.3 1996.5,703.2 2034.1,717.5 2071.7,730.2 2109.3,689.6 2146.9,705.0 2184.5,736.9 2222.1,728.3 2259.7,726.6 2297.3,757.0"/>
</g>
<g fill="none" stroke="#ff0000" stroke-width="8">
<rect x="2185.5" y="1494.2" width="159.3" height="257.5"/>
<path d="M2187.8 1496.1 L1394.4 846.5" stroke-dasharray="43 39.4"/>
<path d="M2344.85 1495.2 L2324.9 844.5" stroke-dasharray="43 39.4"/>
</g>
</svg>
</body></html>
